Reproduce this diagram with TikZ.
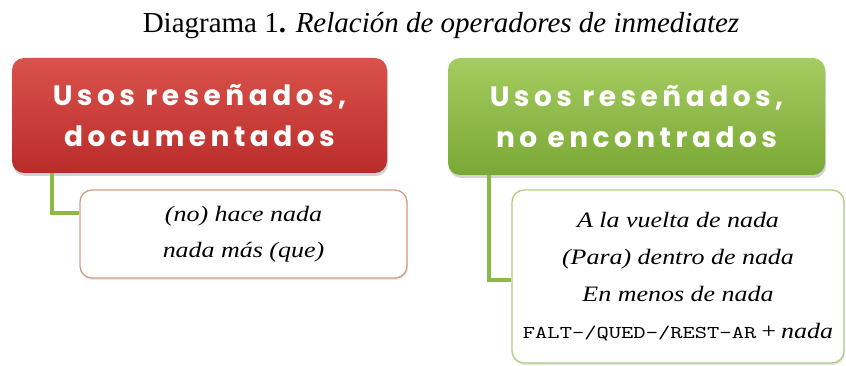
\documentclass[tikz,border=0pt]{standalone}
\usepackage{fontspec}
\setmainfont{Liberation Serif}
\newfontfamily\headfont[LetterSpace=16]{Poppins}
\newfontfamily\listfont[FakeStretch=1.18]{Liberation Serif}
\newfontfamily\capsfont[FakeStretch=1.3]{lmmono10-regular.otf}
\usetikzlibrary{positioning,shadows,calc}

\definecolor{rojoA}{RGB}{218,82,76}
\definecolor{rojoB}{RGB}{186,44,42}
\definecolor{verdeA}{RGB}{165,204,96}
\definecolor{verdeB}{RGB}{122,168,54}
\definecolor{enlace}{RGB}{140,185,70}
\definecolor{bordeA}{RGB}{212,158,128}
\definecolor{bordeB}{RGB}{175,205,125}

\begin{document}
\begin{tikzpicture}[x=1pt, y=-1pt,
    cabecera/.style={rounded corners=12pt, align=center, text=white,
        font=\headfont\bfseries\fontsize{28}{41}\selectfont,
        drop shadow={shadow xshift=1pt, shadow yshift=-3pt, opacity=0.35}},
    lista/.style={draw, rounded corners=12pt, fill=white, line width=1.3pt,
        align=center, font=\listfont\itshape\fontsize{22}{36}\selectfont,
        drop shadow={shadow xshift=1pt, shadow yshift=-2pt, opacity=0.2}},
    rama/.style={draw=enlace, line width=4pt}]
\useasboundingbox (0,0) rectangle (846,366);

% Title
\node[anchor=base, font=\fontsize{29}{34}\selectfont] (titulo) at (441,33)
    {Diagrama 1\textbf{.} \textit{Relación de operadores de inmediatez}};

% Headers
\node[cabecera, top color=rojoA, bottom color=rojoB,
    minimum width=375pt, minimum height=115pt] (documentados) at (199.5,115.5)
    {Usos reseñados,\\documentados};
\node[cabecera, top color=verdeA, bottom color=verdeB,
    minimum width=377pt, minimum height=117pt] (noencontrados) at (636.5,116.5)
    {Usos reseñados,\\no encontrados};

% Lists
\node[lista, draw=bordeA, minimum width=327pt, minimum height=88pt] (listadoc) at (243.5,234)
    {(no) hace nada\\nada más (que)};
\node[lista, draw=bordeB, minimum width=332pt, minimum height=173pt,
    font=\listfont\itshape\fontsize{22}{37}\selectfont] (listanoenc) at (678,276.5)
    {A la vuelta de nada\\(Para) dentro de nada\\En menos de nada\\
     {\capsfont\upshape\fontsize{18}{37}\selectfont FALT-/QUED-/REST-AR}\,+\,nada};

% Connectors
\coordinate (codoA) at (52,213);
\coordinate (codoB) at (489,280);
\draw[rama] (codoA |- documentados.south) -- (codoA) -- (codoA -| listadoc.west);
\draw[rama] (codoB |- noencontrados.south) -- (codoB) -- (codoB -| listanoenc.west);

\end{tikzpicture}
\end{document}
